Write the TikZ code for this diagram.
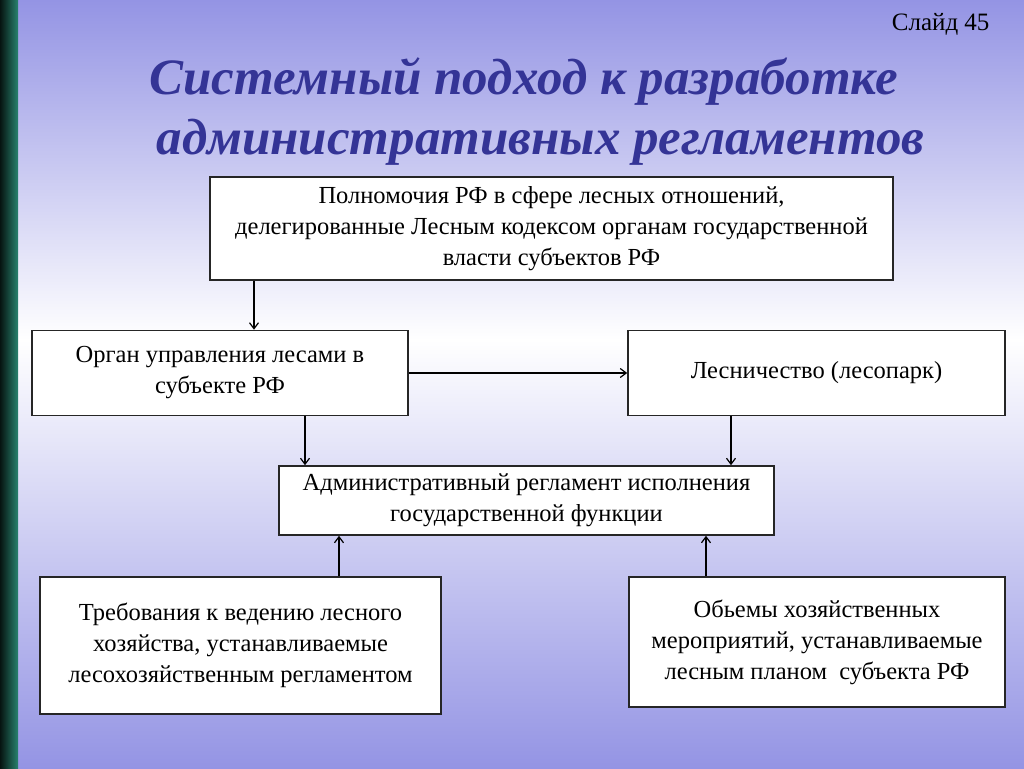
\documentclass[tikz,border=0pt]{standalone}
\usepackage{fontspec}
\setmainfont{Liberation Serif}
\usetikzlibrary{arrows.meta}
\definecolor{bgb}{RGB}{148,148,228}
\definecolor{ttl}{RGB}{52,52,150}
\definecolor{stripe}{RGB}{40,130,110}
\begin{document}
\begin{tikzpicture}[x=1pt,y=-1pt,
  box/.style={draw=black!85,line width=1.6pt,fill=white,align=center,font=\fontsize{24.5}{31}\selectfont,inner sep=0pt},
  arr/.style={line width=1.2pt,-{Straight Barb[length=6pt,width=9pt]}}]
\shade[top color=bgb,bottom color=white] (0,0) rectangle (1024,340);
\shade[top color=white,bottom color=bgb] (0,340) rectangle (1024,768);
\shade[left color=black!85!stripe,right color=stripe] (0,0) rectangle (18,768);
\useasboundingbox (0,0) rectangle (1024,768);
\node[anchor=north east,font=\fontsize{25}{28}\selectfont] (sl) at (993,10) {Слайд 45};
\node[anchor=west,font=\fontsize{51}{56}\selectfont\bfseries\itshape,text=ttl] (t1) at (146,82) {Системный подход к разработке};
\node[anchor=west,font=\fontsize{51}{56}\selectfont\bfseries\itshape,text=ttl] (t2) at (153,142) {административных регламентов};
\node[box,minimum width=683,minimum height=103] (a) at (551.5,228.5) {Полномочия РФ в сфере лесных отношений,\\делегированные Лесным кодексом органам государственной\\власти субъектов РФ};
\node[box,minimum width=376,minimum height=85] (b) at (220,373) {Орган управления лесами в\\субъекте РФ};
\node[box,minimum width=377,minimum height=85] (c) at (816.5,373) {Лесничество (лесопарк)};
\node[box,minimum width=495,minimum height=69] (d) at (526.5,500.5) {Административный регламент исполнения\\государственной функции};
\node[box,minimum width=401,minimum height=137] (e) at (240.5,645.5) {Требования к ведению лесного\\хозяйства, устанавливаемые\\лесохозяйственным регламентом};
\node[box,minimum width=376,minimum height=130] (f) at (817,642) {Обьемы хозяйственных\\мероприятий, устанавливаемые\\лесным планом \ субъекта РФ};
\draw[arr] (a.south -| 254,0) -- (b.north -| 254,0);
\draw[arr] (b.east) -- (c.west);
\draw[arr] (b.south -| 305,0) -- (d.north -| 305,0);
\draw[arr] (c.south -| 731,0) -- (d.north -| 731,0);
\draw[arr] (e.north -| 339,0) -- (d.south -| 339,0);
\draw[arr] (f.north -| 706,0) -- (d.south -| 706,0);
\end{tikzpicture}
\end{document}
